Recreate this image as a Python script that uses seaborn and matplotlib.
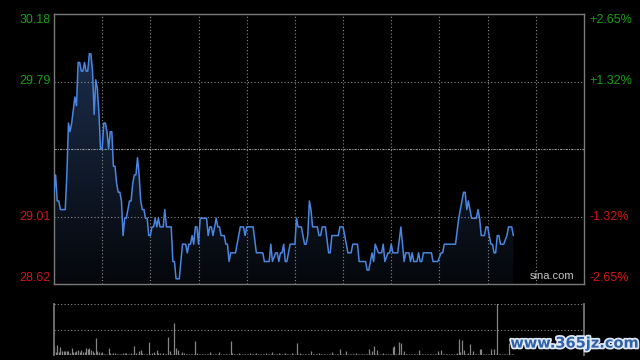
import numpy as np
import matplotlib
matplotlib.use("Agg")
import matplotlib.pyplot as plt
import matplotlib.patheffects as pe
import matplotlib.transforms as mtrans
from matplotlib.colors import LinearSegmentedColormap
import seaborn as sns

# price range / previous close
prev_close = 29.40
price_top, price_bot = 30.18, 28.62
left_labels = ["30.18", "29.79", "29.01", "28.62"]
right_labels = ["+2.65%", "+1.32%", "-1.32%", "-2.65%"]
label_levels = [30.18, 29.79, 29.01, 28.62]

# intraday price (minute index from open, price)
price_min = [0, 1, 2, 3, 4, 7, 8, 9, 10, 11, 13, 14, 15, 16, 17, 18, 19, 20, 21, 22,
             23, 24, 25, 26, 27, 28, 29, 30, 31, 32, 33, 34, 35, 36, 37, 38, 39, 40, 41, 42,
             43, 44, 45, 47, 48, 49, 50, 51, 52, 53, 54, 55, 56, 57, 58, 59, 60, 61, 62, 63,
             64, 65, 66, 67,
             68, 69, 70, 73, 74, 75, 76, 78, 80, 82, 83, 84, 85, 86, 87, 88, 89, 90, 91, 95,
             96, 97, 98, 99, 101, 102, 103, 104, 106, 107, 108, 109, 110, 113, 116, 118, 119, 120, 124, 126,
             130, 131, 134, 135, 136, 138, 139, 140, 141, 142, 143, 144, 145,
             147, 150, 151, 152, 154, 155, 156, 157, 158, 159, 160, 161, 164, 165, 166, 167, 169, 171, 172, 173,
             177, 178, 180, 181, 183, 185, 186, 189, 190, 194, 195, 196, 197, 198, 199, 200, 202, 204, 205, 206,
             208, 209, 210, 211, 214, 216, 218, 219, 221,
             222, 223, 224, 226, 227, 228, 229, 230, 235, 236, 239, 241, 242, 243, 250, 252, 253, 255, 256, 257,
             258, 259, 260, 263, 264, 265, 266, 268, 269, 270, 272, 273, 274, 275, 276, 277, 278, 280, 282, 283,
             285, 286]
price_val = [29.15, 29.25, 29.10, 29.10, 29.05, 29.05, 29.25, 29.55, 29.50, 29.55, 29.70, 29.65, 29.90, 29.90, 29.85, 29.85, 29.90, 29.85, 29.85, 29.95,
             29.95, 29.85, 29.60, 29.80, 29.75, 29.60, 29.40, 29.40, 29.55, 29.55, 29.50, 29.40, 29.50, 29.50, 29.30, 29.30, 29.20, 29.15, 29.15, 29.10,
             28.90, 29.00, 29.00, 29.10, 29.10, 29.20, 29.25, 29.25, 29.35, 29.25, 29.10, 29.05, 29.05, 29.00, 29.00, 28.90, 28.90, 28.95, 28.95, 29.00,
             28.95, 29.00, 28.95, 28.95,
             28.95, 29.05, 28.95, 28.95, 28.75, 28.75, 28.65, 28.65, 28.85, 28.85, 28.80, 28.85, 28.85, 28.90, 28.85, 28.95, 28.95, 28.85, 29.00, 29.00,
             28.90, 28.95, 28.95, 28.90, 29.00, 28.95, 28.95, 28.90, 28.90, 28.85, 28.85, 28.75, 28.80, 28.80, 28.95, 28.95, 28.90, 28.95, 28.95, 28.80,
             28.80, 28.75, 28.75, 28.85, 28.75, 28.80, 28.80, 28.75, 28.80, 28.80, 28.85, 28.75, 28.75,
             28.85, 28.85, 29.00, 28.95, 28.95, 28.90, 28.85, 28.85, 28.90, 29.10, 29.05, 28.95, 28.95, 28.90, 28.90, 28.95, 28.95, 28.80, 28.80, 28.90,
             28.90, 28.95, 28.95, 28.90, 28.80, 28.80, 28.85, 28.85, 28.75, 28.75, 28.70, 28.70, 28.75, 28.80, 28.75, 28.85, 28.80, 28.80, 28.85, 28.75,
             28.80, 28.80, 28.85, 28.80, 28.80, 28.95, 28.75, 28.80, 28.80,
             28.75, 28.80, 28.75, 28.75, 28.80, 28.75, 28.75, 28.80, 28.80, 28.75, 28.75, 28.80, 28.80, 28.85, 28.85, 29.00, 29.05, 29.15, 29.15, 29.05,
             29.10, 29.05, 29.00, 29.00, 29.05, 29.00, 28.90, 28.90, 28.95, 28.95, 28.85, 28.85, 28.80, 28.80, 28.90, 28.90, 28.85, 28.85, 28.90, 28.95,
             28.95, 28.90]

# volume per minute (relative units)
volume = [17, 6, 20, 6, 16, 8, 8, 8, 8, 8, 4, 14, 5, 6, 8, 10, 6, 10, 5, 5, 14, 11, 14, 10, 8, 4, 34, 8, 5, 3,
          5, 2, 2, 2, 14, 3, 2, 3, 3, 2, 2, 2, 2, 3, 3, 3, 2, 2, 3, 2, 18, 3, 2, 8, 10, 3, 2, 2, 2, 25,
          2, 3, 5, 2, 10, 3, 3, 2, 3, 2, 2, 36, 8, 2, 2, 62, 13, 10, 2, 2, 5, 3, 2, 2, 2, 2, 2, 2, 28, 3,
          2, 2, 2, 2, 2, 2, 2, 5, 2, 2, 2, 2, 2, 5, 2, 2, 2, 2, 2, 2, 27, 3, 2, 2, 2, 3, 2, 2, 2, 2,
          2, 2, 3, 2, 2, 2, 3, 2, 2, 2, 2, 2, 3, 2, 2, 2, 5, 2, 2, 2, 3, 2, 2, 2, 3, 2, 2, 2, 3, 2,
          2, 23, 2, 3, 2, 2, 2, 2, 2, 2, 8, 2, 2, 2, 2, 3, 2, 2, 2, 2, 2, 2, 2, 6, 2, 2, 2, 2, 12, 2,
          2, 2, 8, 2, 2, 2, 2, 2, 3, 2, 2, 2, 2, 2, 2, 2, 11, 2, 8, 18, 2, 10, 2, 2, 2, 3, 2, 2, 2, 2,
          2, 16, 18, 2, 2, 25, 24, 2, 8, 2, 2, 2, 2, 2, 2, 2, 2, 10, 2, 2, 2, 2, 2, 2, 2, 2, 2, 2, 2, 8,
          2, 10, 2, 2, 2, 2, 2, 2, 2, 2, 2, 3, 31, 6, 29, 10, 2, 2, 3, 22, 2, 8, 2, 2, 2, 12, 12, 2, 2, 2,
          2, 2, 12, 2, 12, 2, 110, 2, 2, 2, 2, 2, 2, 24, 2, 2, 2]
vol_min = list(range(len(volume)))

sns.set_theme(style="dark")
plt.rcParams["font.family"] = ["Liberation Sans", "DejaVu Sans"]

fig = plt.figure(figsize=(6.4, 3.6), dpi=100, facecolor="black")
ax = fig.add_axes([54 / 640, 1 - 284 / 360, 530 / 640, 270 / 360])
axv = fig.add_axes([54 / 640, 1 - 355 / 360, 530 / 640, 51 / 360])

grid_c = "#8c8c8c"
border_c = "#7a7a7a"

# --- price panel
ax.set_facecolor("black")
poly = ax.fill_between(price_min, price_val, price_bot, color="none", lw=0)
cmap = LinearSegmentedColormap.from_list("fade", ["#05070b", "#1b2d4b"])
grad = np.linspace(0, 1, 256).reshape(-1, 1)
im = ax.imshow(grad, extent=[0, 330, price_bot, 29.95], aspect="auto",
               cmap=cmap, origin="lower", zorder=1)
im.set_clip_path(poly.get_paths()[0], transform=ax.transData)

sns.lineplot(x=price_min, y=price_val, ax=ax, color="#4a86e0", linewidth=1.1, zorder=3)

for x in range(30, 330, 30):
    ax.axvline(x, color=grid_c, ls=(0, (1, 2)), lw=0.8, zorder=2)
for y in [29.79, 29.01]:
    ax.axhline(y, color=grid_c, ls=(0, (1, 2)), lw=0.8, zorder=2)
ax.axhline(prev_close, color="#9a9a9a", ls=(0, (2, 1, 1, 1)), lw=0.8, zorder=2)

ax.set_xlim(0, 330)
ax.set_ylim(price_bot, price_top)
ax.set_xticks([])
ax.set_yticks([])
ax.set_xlabel("")
ax.set_ylabel("")
ax.grid(False)
for s in ax.spines.values():
    s.set_visible(True)
    s.set_color(border_c)
    s.set_linewidth(1.0)

trans = mtrans.blended_transform_factory(ax.transAxes, ax.transData)
vas = ["top", "center", "center", "bottom"]
cols = ["#16a016", "#16a016", "#d41414", "#d41414"]
for lvl, l_txt, r_txt, va, c in zip(label_levels, left_labels, right_labels, vas, cols):
    ax.text(-0.006, lvl, l_txt, transform=trans, ha="right", va=va, color=c, fontsize=9)
    ax.text(1.011, lvl, r_txt, transform=trans, ha="left", va=va, color=c, fontsize=9)

ax.text(0.982, 0.012, "sina.com", transform=ax.transAxes, ha="right", va="bottom",
        color="#c4c4c4", fontsize=8)

# --- volume panel
axv.set_facecolor("black")
axv.vlines(vol_min, 0, volume, color="#858585", lw=0.9)
axv.axhline(100, color=grid_c, ls=(0, (1, 2)), lw=0.8)
axv.axhline(50, color=grid_c, ls=(0, (1, 2)), lw=0.8)
axv.set_xlim(0, 330)
axv.set_ylim(0, 100)
axv.set_xticks([])
axv.set_yticks([])
axv.grid(False)
for k, s in axv.spines.items():
    s.set_color(border_c)
    s.set_visible(k in ("left", "right"))

# watermark
fig.text(0.898, 0.047, "www.365jz.com", ha="center", va="center", color="#2f62a8",
         fontsize=10.5, fontweight="bold", family="DejaVu Sans",
         path_effects=[pe.withStroke(linewidth=2.5, foreground="#dfe8f5")])

fig.savefig("out.png", dpi=100, facecolor="black")
